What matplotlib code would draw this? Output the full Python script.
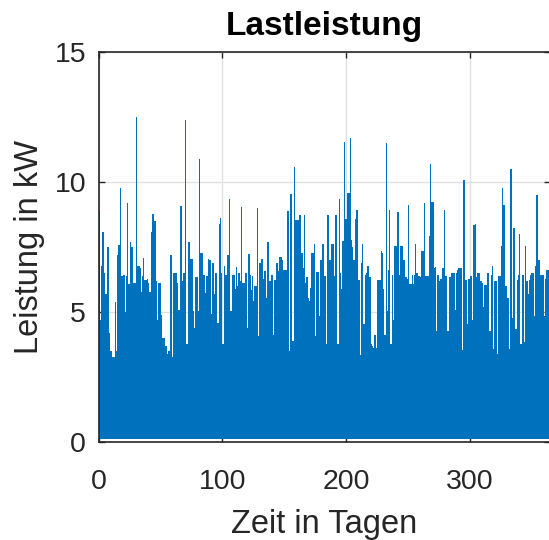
import numpy as np
import matplotlib
matplotlib.use("Agg")
import matplotlib.pyplot as plt

# Tagesmaxima der Lastleistung in kW (Tag 0 bis 364), blockweise
tagesmax_01 = [8.9, 4.7, 6.8, 8.1, 6.5, 5.7, 5.7, 7.5, 4.2, 3.5,
               3.5, 3.3, 3.3, 5.4, 3.5, 7.2, 7.6, 9.8, 6.4, 6.4,
               6.45, 5.0, 6.4, 9.2, 6.1, 7.7, 7.5, 7.5, 6.15, 6.15,
               12.5, 6.8, 6.8, 6.7, 5.8, 6.4, 7.1, 6.25, 6.25, 6.3,
               6.15, 5.8, 8.1, 8.8, 8.8, 8.5, 6.2, 4.7, 6.15, 6.15,
               4.9, 4.0, 4.0, 4.0, 3.7, 3.4, 3.5, 3.5, 7.2, 3.3,
               6.5, 6.5]
tagesmax_02 = [6.5, 6.15, 5.1, 5.1, 9.1, 6.2, 6.5, 6.5, 12.4, 3.8,
               7.7, 7.7, 7.05, 7.05, 5.05, 4.4, 6.35, 6.35, 5.05, 10.9,
               7.3, 7.3, 6.45, 6.45, 5.75, 6.4, 7.05, 7.0, 7.0, 4.95,
               6.9, 5.7, 6.5, 6.5, 4.6, 8.4, 8.65, 6.5, 3.8, 6.8,
               6.45, 6.45, 7.2, 9.35, 5.05, 5.05, 6.45, 6.45, 5.9, 6.75,
               6.0, 6.5, 6.2, 9.05, 6.15, 6.15, 6.5, 6.5, 4.4, 7.25]
tagesmax_03 = [6.45, 5.85, 6.4, 5.45, 6.0, 6.0, 9.0, 4.1, 6.9, 7.05,
               7.05, 6.3, 6.6, 5.55, 7.7, 7.7, 6.2, 6.45, 6.45, 4.15,
               6.25, 6.9, 6.9, 6.6, 7.15, 7.15, 7.0, 6.65, 6.65, 6.65,
               8.9, 8.9, 3.5, 9.55, 3.9, 3.9, 10.6, 8.55, 8.55, 8.55,
               8.75, 8.75, 7.3, 6.7, 8.75, 6.15, 6.35, 5.55, 5.45, 5.95,
               7.3, 7.3, 7.65, 4.1, 6.55, 6.55, 4.85, 7.0, 7.0, 7.65,
               6.4]
tagesmax_04 = [6.4, 3.8, 8.75, 7.0, 7.0, 7.65, 7.65, 6.4, 8.75, 8.75,
               3.8, 9.35, 6.5, 5.9, 7.75, 11.55, 8.6, 8.6, 9.6, 9.6,
               11.7, 7.8, 7.5, 7.0, 8.6, 8.95, 8.95, 6.25, 3.35, 6.9,
               7.65, 4.55, 6.45, 6.5, 6.8, 6.8, 6.35, 3.8, 3.7, 3.65,
               4.15, 3.65, 6.25, 6.25, 6.25, 7.35, 7.3, 5.9, 4.15, 11.5,
               5.05, 6.65, 8.95, 3.8, 6.45, 4.7, 7.55, 7.55, 8.85, 8.85,
               6.45]
tagesmax_05 = [7.55, 7.55, 7.0, 7.0, 6.35, 6.3, 9.15, 6.1, 6.1, 6.45,
               6.1, 6.45, 7.65, 6.5, 6.4, 6.4, 6.35, 7.35, 7.35, 9.2,
               6.4, 6.4, 6.4, 7.95, 10.7, 9.25, 9.25, 6.7, 6.75, 4.3,
               6.45, 6.2, 6.3, 6.3, 6.7, 8.95, 6.4, 6.4, 4.3, 6.35,
               6.35, 6.5, 6.5, 6.5, 5.1, 6.5, 6.65, 6.7, 6.7, 6.7,
               3.55, 10.1, 6.25, 6.25, 4.55, 6.3, 6.4, 6.4, 4.7, 8.35]
tagesmax_06 = [8.4, 6.35, 6.5, 6.5, 6.2, 6.2, 6.15, 5.2, 6.05, 6.05,
               6.5, 6.5, 4.3, 6.45, 6.8, 3.6, 6.2, 6.2, 3.4, 6.4,
               6.4, 7.55, 9.8, 9.15, 9.15, 6.0, 5.55, 5.55, 3.6, 10.5,
               4.8, 8.25, 8.25, 4.35, 6.25, 6.45, 8.0, 3.8, 6.45, 6.45,
               3.85, 7.55, 6.2, 5.7, 6.25, 6.45, 6.5, 6.5, 4.85, 6.8,
               9.5, 7.0, 7.0, 6.45, 6.45, 6.45, 4.85, 6.3, 6.65, 6.65,
               6.65]
grundlast = 0.15  # kW, Minimum der Last

tagesmax = np.concatenate([tagesmax_01, tagesmax_02, tagesmax_03,
                           tagesmax_04, tagesmax_05, tagesmax_06])
tage = np.arange(tagesmax.size + 1)

plt.rcParams["font.family"] = ["Liberation Sans", "DejaVu Sans"]
achsfarbe = "#262626"

fig = plt.figure(figsize=(5.49, 5.40), dpi=100)
ax = fig.add_axes([0.1798, 0.1806, 0.822, 0.7222])

ax.stairs(tagesmax, tage, baseline=grundlast, fill=True,
          color="#0072BD", lw=0)

ax.set_xlim(0, 365)
ax.set_ylim(0, 15)
ax.set_xticks([0, 100, 200, 300])
ax.set_yticks([0, 5, 10, 15])
ax.grid(True, color="#dfdfdf", lw=0.9)
ax.set_axisbelow(True)

ax.tick_params(direction="in", length=4, width=1.0, colors=achsfarbe,
               labelsize=20.5, top=True, right=True)
ax.tick_params(axis="y", pad=9)
ax.tick_params(axis="x", pad=19)
for s in ax.spines.values():
    s.set_color(achsfarbe)
    s.set_linewidth(1.2)

ax.set_title("Lastleistung", fontsize=24, fontweight="bold", pad=12.5)
ax.set_xlabel("Zeit in Tagen", fontsize=23.5, color=achsfarbe, labelpad=10)
ax.set_ylabel("Leistung in kW", fontsize=23.5, color=achsfarbe, labelpad=7)

fig.savefig("out.png", dpi=100)
plt.close(fig)
